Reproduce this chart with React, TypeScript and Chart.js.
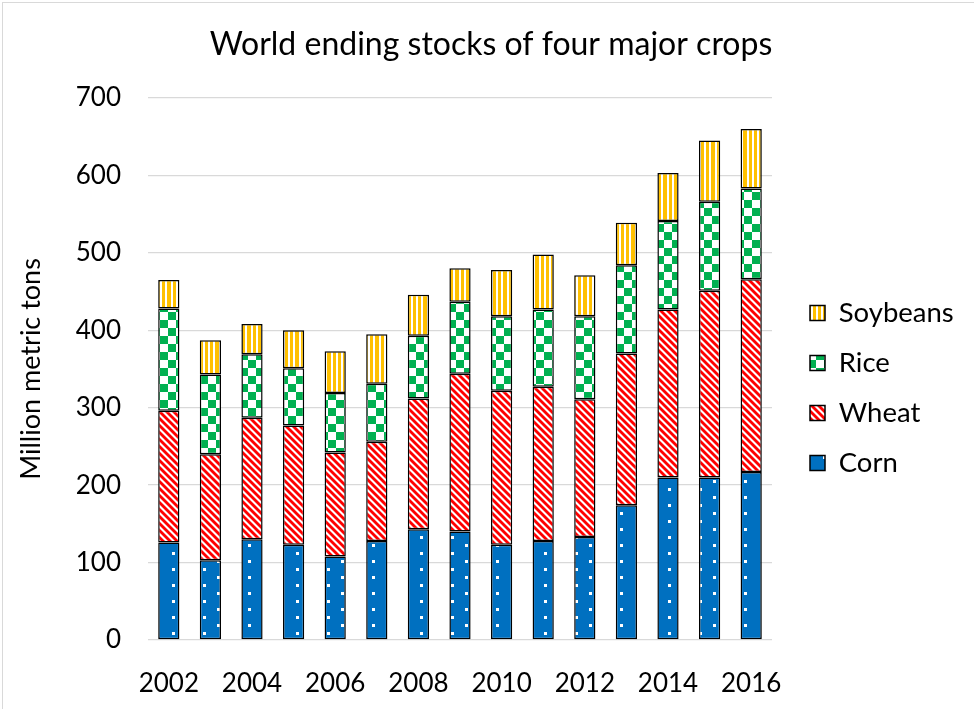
import React, { useEffect, useRef } from 'react';
import { Chart, registerables } from 'chart.js';

Chart.register(...registerables);

const years = ['2002', '2003', '2004', '2005', '2006', '2007', '2008', '2009', '2010', '2011', '2012', '2013', '2014', '2015', '2016'];
const corn = [126, 103, 130, 123, 108, 128, 143, 140, 123, 128, 133, 174, 210, 210, 217];
const wheat = [170, 137, 157, 154, 134, 128, 169, 204, 199, 199, 178, 196, 217, 241, 249];
const rice = [132, 103, 82, 74, 77, 75, 81, 93, 96, 100, 107, 114, 114, 115, 117];
const soybeans = [37, 44, 39, 49, 54, 64, 53, 43, 60, 71, 53, 55, 62, 79, 77];
const yMin = 0;
const yMax = 700;
const yStep = 100;

const FONT = 'Lato';

function makePattern(w: number, h: number, draw: (c: CanvasRenderingContext2D) => void) {
  const cv = document.createElement('canvas');
  cv.width = w;
  cv.height = h;
  const c = cv.getContext('2d') as CanvasRenderingContext2D;
  draw(c);
  return c.createPattern(cv, 'repeat') as CanvasPattern;
}

function cornPattern() {
  return makePattern(31, 16, (c) => {
    c.fillStyle = '#0070C0';
    c.fillRect(0, 0, 31, 16);
    c.fillStyle = '#ffffff';
    c.fillRect(0, 0, 3, 3);
    c.fillRect(17, 8, 3, 3);
  });
}

function wheatPattern() {
  return makePattern(7, 7, (c) => {
    c.fillStyle = '#ffffff';
    c.fillRect(0, 0, 7, 7);
    c.strokeStyle = '#FF0000';
    c.lineWidth = 2.8;
    for (const k of [-7, 0, 7]) {
      c.beginPath();
      c.moveTo(k - 1, -1);
      c.lineTo(k + 8, 8);
      c.stroke();
    }
  });
}

function ricePattern() {
  return makePattern(16, 16, (c) => {
    c.fillStyle = '#ffffff';
    c.fillRect(0, 0, 16, 16);
    c.fillStyle = '#00B050';
    c.fillRect(0, 0, 8, 8);
    c.fillRect(8, 8, 8, 8);
  });
}

function soyPattern() {
  return makePattern(16, 4, (c) => {
    c.fillStyle = '#FFC000';
    c.fillRect(0, 0, 16, 4);
    c.fillStyle = '#ffffff';
    c.fillRect(0, 0, 2, 4);
    c.fillRect(5, 0, 2, 4);
    c.fillRect(11, 0, 2, 4);
  });
}

const LEGEND_WIDTH = 186.5;

const legendWiden = {
  id: 'legendWiden',
  beforeLayout(chart: any) {
    const lg = chart.legend;
    if (lg && !lg.__widened) {
      const orig = lg.fit;
      lg.fit = function (this: any) {
        orig.call(this);
        this.width = LEGEND_WIDTH;
      };
      lg.__widened = true;
    }
  },
};

export default function App() {
  const ref = useRef<HTMLCanvasElement | null>(null);

  useEffect(() => {
    if (!ref.current) return;
    const common = {
      borderColor: '#000000',
      borderWidth: 1.5,
      borderSkipped: false as const,
      barPercentage: 0.51,
      categoryPercentage: 1,
      yAxisID: 'y',
    };
    const chart = new Chart(ref.current, {
      type: 'bar',
      plugins: [legendWiden],
      data: {
        labels: years,
        datasets: [
          { label: 'Corn', data: corn, backgroundColor: cornPattern(), ...common },
          { label: 'Wheat', data: wheat, backgroundColor: wheatPattern(), ...common },
          { label: 'Rice', data: rice, backgroundColor: ricePattern(), ...common },
          { label: 'Soybeans', data: soybeans, backgroundColor: soyPattern(), ...common },
        ],
      },
      options: {
        responsive: false,
        animation: false,
        devicePixelRatio: 1,
        layout: { padding: { left: 8, right: 0, top: 0, bottom: 0 } },
        plugins: {
          tooltip: { enabled: false },
          title: {
            display: true,
            text: 'World ending stocks of four major crops',
            color: '#000000',
            font: { family: FONT, size: 32, weight: 'normal', lineHeight: 1.2 },
            padding: { top: 25.8, bottom: 33.8 },
          },
          legend: {
            display: true,
            position: 'right',
            reverse: true,
            title: {
              display: true,
              text: ' ',
              font: { family: FONT, size: 10, lineHeight: 1 },
              padding: { top: 57, bottom: 0 },
            },
            labels: {
              color: '#000000',
              font: { family: FONT, size: 27.5 },
              boxWidth: 15,
              boxHeight: 15,
              padding: 22.5,
            },
          },
        },
        scales: {
          x: {
            stacked: true,
            grid: { display: false },
            border: { display: false },
            ticks: {
              autoSkip: false,
              maxRotation: 0,
              color: '#000000',
              padding: 20,
              font: { family: FONT, size: 26 },
              callback: (_v: any, i: number) => (i % 2 === 0 ? years[i] : ''),
            },
            afterFit: (s: any) => {
              s.height = 69;
            },
          },
          y: {
            stacked: true,
            min: yMin,
            max: yMax,
            grid: { color: '#d9d9d9', lineWidth: 1.3, drawTicks: false },
            border: { display: false },
            ticks: {
              stepSize: yStep,
              color: '#000000',
              padding: 27,
              font: { family: FONT, size: 26 },
            },
            title: {
              display: true,
              text: 'Million metric tons',
              color: '#000000',
              font: { family: FONT, size: 27, lineHeight: 1.2 },
              padding: { top: 7, bottom: 0 },
            },
            afterFit: (s: any) => {
              s.width = 140;
            },
          },
          y2: {
            type: 'linear',
            position: 'right',
            display: true,
            grid: { display: false },
            border: { display: false },
            ticks: { display: false },
            afterFit: (s: any) => {
              s.width = 15.5;
            },
          },
        },
      },
    } as any);
    return () => chart.destroy();
  }, []);

  return (
    <div style={{ position: 'fixed', left: 0, top: 0, width: 974, height: 709, background: '#ffffff' }}>
      <div
        style={{
          position: 'absolute',
          left: 2,
          top: 2,
          width: 1000,
          height: 760,
          border: '1px solid #d9d9d9',
          boxSizing: 'border-box',
        }}
      />
      <canvas ref={ref} width={974} height={709} style={{ position: 'absolute', left: 0, top: 0, width: 974, height: 709 }} />
    </div>
  );
}
